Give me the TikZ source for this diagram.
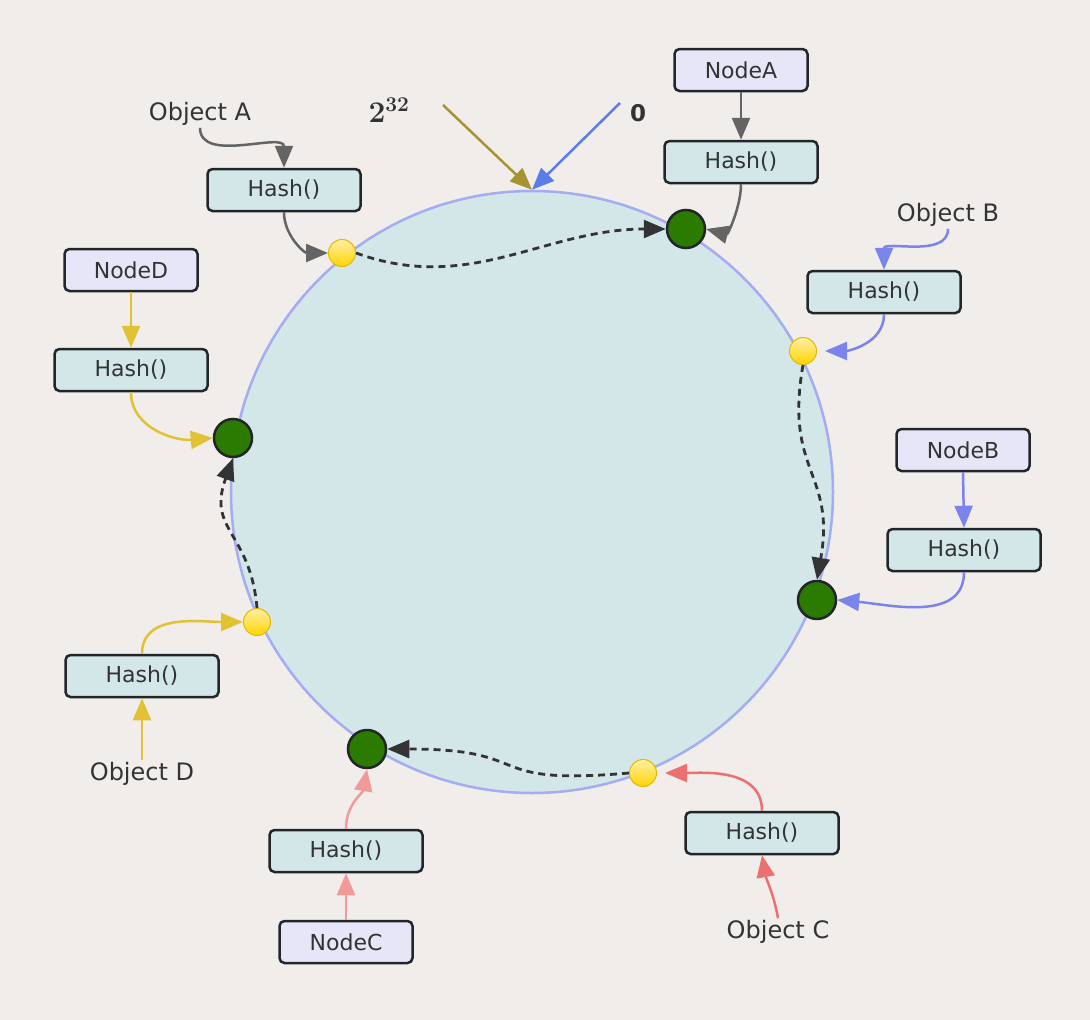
\documentclass[tikz,border=0pt]{standalone}
\usepackage{fix-cm}
\usepackage[no-math]{fontspec}
\setmainfont{DejaVu Sans}
\usetikzlibrary{arrows.meta}

\definecolor{PaperGrey}{HTML}{F0EDEB}
\definecolor{RingFill}{HTML}{D3E7E9}
\definecolor{RingLine}{HTML}{A4ACF2}
\definecolor{HashFill}{HTML}{D3E7E9}
\definecolor{NodeFill}{HTML}{E6E6F8}
\definecolor{BoxLine}{HTML}{232628}
\definecolor{TextDark}{HTML}{333333}
\definecolor{LinkGrey}{HTML}{646464}
\definecolor{LinkBlue}{HTML}{7B84EA}
\definecolor{ZeroBlue}{HTML}{5B7CEB}
\definecolor{LinkRed}{HTML}{EC7070}
\definecolor{LinkPink}{HTML}{F29A9A}
\definecolor{LinkYellow}{HTML}{E2C232}
\definecolor{MaxOlive}{HTML}{A69433}
\definecolor{DashDark}{HTML}{333333}
\definecolor{ServerGreen}{HTML}{2A7B00}
\definecolor{KeyYellow}{HTML}{FFD400}
\definecolor{KeyEdge}{HTML}{E6B800}

\tikzstyle{box}=[draw=BoxLine, line width=2.5pt, rounded corners=5pt, minimum height=42pt, inner sep=0pt, text=TextDark, font=\fontsize{22}{26}\selectfont]
\tikzstyle{hash-box}=[box, fill=HashFill, minimum width=153pt]
\tikzstyle{node-box}=[box, fill=NodeFill, minimum width=133pt]
\tikzstyle{object-label}=[inner sep=2pt, text=TextDark, font=\fontsize{24}{28}\selectfont]
\tikzstyle{server}=[circle, draw=BoxLine, line width=2.5pt, fill=ServerGreen, minimum size=38pt, inner sep=0pt]
\tikzstyle{key}=[circle, draw=KeyEdge, line width=1pt, top color=KeyYellow!35, bottom color=KeyYellow, minimum size=27pt, inner sep=0pt]
\tikzstyle{link}=[line width=2.5pt, -{Triangle[length=22pt,width=18pt]}]
\tikzstyle{walk}=[link, DashDark, line width=2.8pt, dash pattern=on 7pt off 5pt]

\begin{document}
\begin{tikzpicture}[x=1pt, y=1pt]
      \useasboundingbox (0,0) rectangle (1090,-1020);
      \fill[PaperGrey] (0,0) rectangle (1090,-1020);

      \node (ring) at (532,-492) [circle, draw=RingLine, line width=2.5pt, fill=RingFill, minimum size=602pt, inner sep=0pt] {};

      \node (object-A) at (200,-114) [object-label] {Object A};
      \node (object-B) at (948,-215) [object-label] {Object B};
      \node (object-C) at (778,-932) [object-label] {Object C};
      \node (object-D) at (142,-774) [object-label] {Object D};
      \node (label-max) at (389,-110) [text=TextDark, font=\fontsize{30}{34}\selectfont] {$\mathbf{2^{32}}$};
      \node (label-zero) at (638,-113) [text=TextDark, font=\fontsize{23}{27}\selectfont\bfseries] {0};
      \coordinate (max-start) at (443,-105);
      \coordinate (zero-start) at (620,-103);

      \node (node-A) at (741,-70) [node-box] {NodeA};
      \node (node-B) at (963,-450) [node-box] {NodeB};
      \node (node-C) at (346,-942) [node-box] {NodeC};
      \node (node-D) at (131,-270) [node-box] {NodeD};

      \node (hash-nodeA) at (741,-162) [hash-box] {Hash()};
      \node (hash-nodeB) at (964,-550) [hash-box] {Hash()};
      \node (hash-nodeC) at (346,-851) [hash-box] {Hash()};
      \node (hash-nodeD) at (131,-370) [hash-box] {Hash()};
      \node (hash-objectA) at (284,-190) [hash-box] {Hash()};
      \node (hash-objectB) at (884,-292) [hash-box] {Hash()};
      \node (hash-objectC) at (762,-833) [hash-box] {Hash()};
      \node (hash-objectD) at (142,-676) [hash-box] {Hash()};

      \node (server-A) at (686,-229) [server] {};
      \node (server-B) at (817,-600) [server] {};
      \node (server-C) at (367,-749) [server] {};
      \node (server-D) at (233,-438) [server] {};

      \node (key-A) at (342,-253) [key] {};
      \node (key-B) at (803,-351) [key] {};
      \node (key-C) at (643,-773) [key] {};
      \node (key-D) at (257,-622) [key] {};

      \draw[link, MaxOlive] (max-start) -- (ring.north);
      \draw[link, ZeroBlue] (zero-start) -- (ring.north);

      \draw[link, LinkGrey] (object-A.south) to[out=-90, in=90] (hash-objectA.north);
      \draw[link, LinkGrey] (hash-objectA.south) to[out=-90, in=180] (key-A.west);
      \draw[walk] (key-A.east) to[out=-20, in=180] (server-A.west);
      \draw[link, LinkGrey] (node-A.south) -- (hash-nodeA.north);
      \draw[link, LinkGrey] (hash-nodeA.south) to[out=-90, in=-15] (server-A.east);

      \draw[link, LinkBlue] (object-B.south) to[out=-90, in=90] (hash-objectB.north);
      \draw[link, LinkBlue, shorten >=8pt] (hash-objectB.south) to[out=-90, in=0] (key-B.east);
      \draw[walk] (key-B.south) to[out=-100, in=80, looseness=1.3] (server-B.north);
      \draw[link, LinkBlue] (node-B.south) -- (hash-nodeB.north);
      \draw[link, LinkBlue] (hash-nodeB.south) to[out=-90, in=-5] (server-B.east);

      \draw[link, LinkRed] (object-C.north) to[out=100, in=-80] (hash-objectC.south);
      \draw[link, LinkRed, shorten >=8pt] (hash-objectC.north) to[out=90, in=0] (key-C.east);
      \draw[walk] (key-C.west) to[out=185, in=0, looseness=1.6] (server-C.east);
      \draw[link, LinkPink] (node-C.north) -- (hash-nodeC.south);
      \draw[link, LinkPink] (hash-nodeC.north) to[out=90, in=-100] (server-C.south);

      \draw[link, LinkYellow] (object-D.north) -- (hash-objectD.south);
      \draw[link, LinkYellow] (hash-objectD.north) to[out=90, in=180] (key-D.west);
      \draw[walk] (key-D.north) to[out=95, in=-110, looseness=1.3] (server-D.south);
      \draw[link, LinkYellow] (node-D.south) -- (hash-nodeD.north);
      \draw[link, LinkYellow] (hash-nodeD.south) to[out=-90, in=185] (server-D.west);
\end{tikzpicture}
\end{document}
